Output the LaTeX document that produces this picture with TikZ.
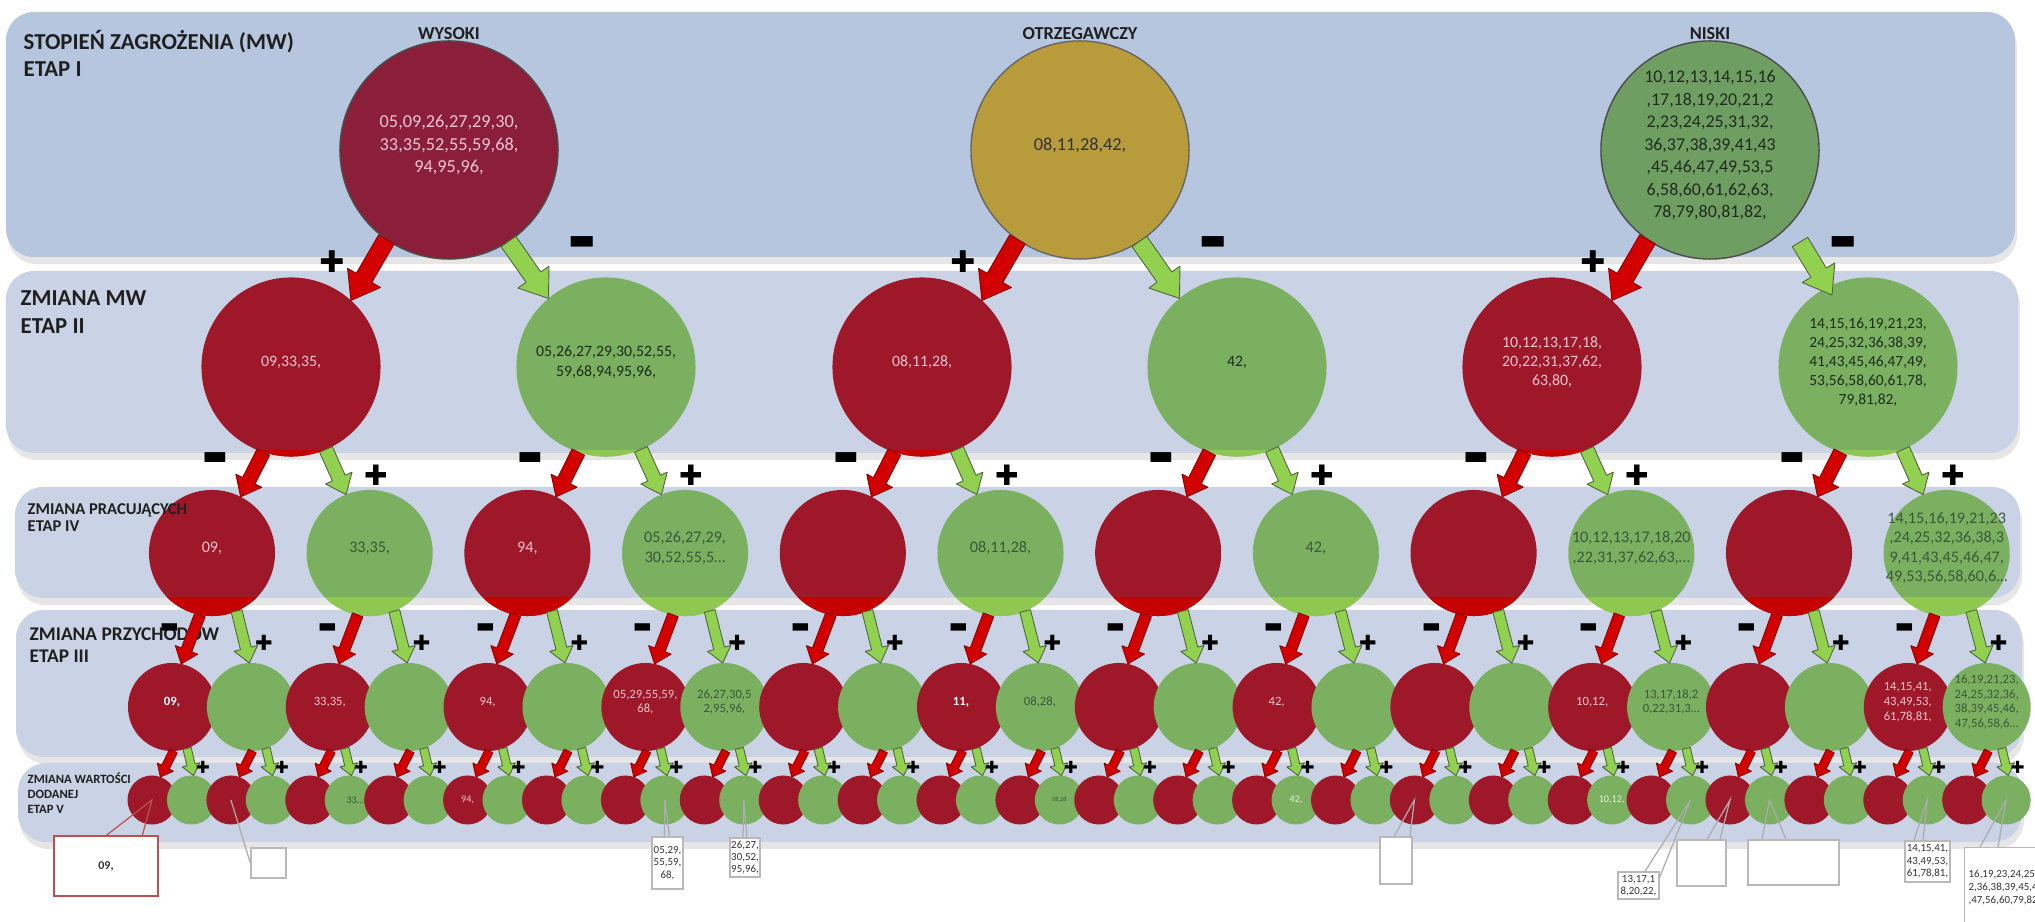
\documentclass[tikz,border=0pt]{standalone}
\usepackage{graphicx}
\usepackage{fontspec}
\setmainfont{Carlito}
\newfontfamily\signfont{DejaVu Sans}
\usetikzlibrary{calc,shadows}
\definecolor{bandA}{RGB}{182,198,222}
\definecolor{bandB}{RGB}{201,211,229}
\definecolor{wysred}{RGB}{139,31,58}
\definecolor{otrgold}{RGB}{184,156,60}
\definecolor{nisgreen}{RGB}{111,158,98}
\definecolor{ballred}{RGB}{158,24,42}
\definecolor{ballgreen}{RGB}{122,176,96}
\definecolor{stripred}{RGB}{196,0,0}
\definecolor{stripgreen}{RGB}{142,200,80}
\definecolor{arrred}{RGB}{210,0,0}
\definecolor{arrredline}{RGB}{140,0,0}
\definecolor{arrgreen}{RGB}{146,208,80}
\definecolor{arrgreenline}{RGB}{80,100,60}
\definecolor{pinktxt}{RGB}{242,196,206}
\definecolor{greentxt}{RGB}{58,88,58}
\definecolor{darktxt}{RGB}{30,44,30}
\definecolor{lighttxt}{RGB}{225,240,215}
\definecolor{boxred}{RGB}{192,80,77}
% tekst w kole (bez powiekszania wezla)
\newcommand{\balltext}[1]{\smash{\makebox[0pt]{\begin{tabular}{@{}c@{}}#1\end{tabular}}}}
% znaki + i -
\newcommand{\plussign}{\scalebox{0.85}{✚}}
\newcommand{\minussign}{\scalebox{1}[2.6]{−}}
% strzalka blokowa: styl, od, do, pol trzonu, pol grotu, dlugosc grotu
\newcommand{\blockarrow}[6]{%
  \draw[#1] let \p1=(#2), \p2=(#3),
      \n1={atan2(\y2-\y1,\x2-\x1)},
      \n2={veclen(\x2-\x1,\y2-\y1)-#6} in
    ($(\p1)+(\n1+90:#4)$)
    -- ($(\p1)+(\n1:\n2)+(\n1+90:#4)$)
    -- ($(\p1)+(\n1:\n2)+(\n1+90:#5)$)
    -- (\p2)
    -- ($(\p1)+(\n1:\n2)+(\n1-90:#5)$)
    -- ($(\p1)+(\n1:\n2)+(\n1-90:#4)$)
    -- ($(\p1)+(\n1-90:#4)$) -- cycle;}
\tikzset{
    band/.style={fill=bandB, rounded corners=0.28cm,
        drop shadow={opacity=0.2, shadow xshift=0.02cm, shadow yshift=-0.07cm}},
    ball/.style={circle, inner sep=0pt, outer sep=0pt},
    redarrow/.style={fill=arrred, draw=arrredline, line width=0.25pt, line join=round},
    greenarrow/.style={fill=arrgreen, draw=arrgreenline, line width=0.25pt, line join=round},
    signA/.style={inner sep=0pt, text=black, font=\signfont\bfseries\fontsize{10}{10}\selectfont},
    signB/.style={signA, font=\signfont\bfseries\fontsize{9.4}{9.4}\selectfont},
    signC/.style={signA, font=\signfont\bfseries\fontsize{7}{7}\selectfont},
    signD/.style={signA, font=\signfont\bfseries\fontsize{5.6}{5.6}\selectfont},
    level/.style={anchor=north west, align=left, inner sep=0pt, text=black!88},
    head/.style={inner sep=0pt, text=black!88, font=\bfseries\fontsize{5.2}{6}\selectfont},
    callbox/.style={draw=gray!55, fill=white, line width=0.35pt, inner sep=0pt,
        align=center, text=black!80, font=\fontsize{3.1}{3.5}\selectfont},
    callline/.style={draw=gray!65, line width=0.35pt}
}
\begin{document}
\begin{tikzpicture}[x=0.01cm,y=-0.01cm]
\path[use as bounding box, clip] (0,0) rectangle (2035,922);

% ===================== pasy etapow =====================
\path[band, fill=bandA] (6,12) rectangle (2015,257);
\path[band] (6,271) rectangle (2018,453);
\path[band] (15,487) rectangle (2020,598);
\path[band] (16,610) rectangle (2022,757);
\path[band] (18,763) rectangle (2022,842);

% ===================== etap I =====================
\node[ball, fill=wysred, draw=black!70, line width=0.4pt, minimum size=2.18cm,
    text=pinktxt, font=\fontsize{5.2}{6.3}\selectfont] (mw1) at (449,150)
    {\balltext{05,09,26,27,29,30,\\33,35,52,55,59,68,\\94,95,96,}};
\node[ball, fill=otrgold, draw=black!60, line width=0.4pt, minimum size=2.18cm,
    text=black!80, font=\fontsize{5.2}{6.3}\selectfont] (mw2) at (1080,150)
    {\balltext{08,11,28,42,}};
\node[ball, fill=nisgreen, draw=black!70, line width=0.4pt, minimum size=2.18cm,
    text=darktxt, font=\fontsize{5.1}{6.4}\selectfont] (mw3) at (1710,150)
    {\balltext{10,12,13,14,15,16\\,17,18,19,20,21,2\\2,23,24,25,31,32,\\36,37,38,39,41,43\\,45,46,47,49,53,5\\6,58,60,61,62,63,\\78,79,80,81,82,}};
\node[head] (h1) at (449,34) {WYSOKI};
\node[head] (h2) at (1080,34) {OTRZEGAWCZY};
\node[head] (h3) at (1710,34) {NISKI};

% ===================== etap II =====================
\node[ball, fill=ballred, text=pinktxt, minimum size=1.79cm, font=\fontsize{4.5}{5.5}\selectfont]
    (z1) at (291,367) {\balltext{09,33,35,}};
\node[ball, fill=ballgreen, text=darktxt, minimum size=1.79cm, font=\fontsize{4.5}{5.5}\selectfont]
    (z2) at (606,367) {\balltext{05,26,27,29,30,52,55,\\59,68,94,95,96,}};
\node[ball, fill=ballred, text=pinktxt, minimum size=1.79cm, font=\fontsize{4.5}{5.5}\selectfont]
    (z3) at (922,367) {\balltext{08,11,28,}};
\node[ball, fill=ballgreen, text=darktxt, minimum size=1.79cm, font=\fontsize{4.5}{5.5}\selectfont]
    (z4) at (1237,367) {\balltext{42,}};
\node[ball, fill=ballred, text=pinktxt, minimum size=1.79cm, font=\fontsize{4.5}{5.5}\selectfont]
    (z5) at (1552,367) {\balltext{10,12,13,17,18,\\20,22,31,37,62,\\63,80,}};
\node[ball, fill=ballgreen, text=darktxt, minimum size=1.79cm, font=\fontsize{4.4}{5.4}\selectfont]
    (z6) at (1868,367) {\balltext{14,15,16,19,21,23,\\24,25,32,36,38,39,\\41,43,45,46,47,49,\\53,56,58,60,61,78,\\79,81,82,}};

% ===================== etap IV =====================
\foreach \kk/\tx in {1/{09,},2/{33,35,},3/{94,},4/{05,26,27,29,\\30,52,55,5…},5/{},6/{08,11,28,},
    7/{},8/{42,},9/{},10/{10,12,13,17,18,20\\,22,31,37,62,63,…},11/{},
    12/{14,15,16,19,21,23\\,24,25,32,36,38,3\\9,41,43,45,46,47,\\49,53,56,58,60,6…}}{
  \pgfmathsetmacro{\xx}{212+157.7*(\kk-1)}
  \ifodd\kk\relax\def\bc{ballred}\def\tc{pinktxt}\else\def\bc{ballgreen}\def\tc{greentxt}\fi
  \node[ball, fill=\bc, text=\tc, minimum size=1.26cm, font=\fontsize{4.6}{5.5}\selectfont]
      (p\kk) at (\xx,553) {\balltext{\tx}};
}
% jasniejsze dolne brzegi kol
\begin{scope}
\clip (0,451) rectangle (2035,462);
\foreach \nn in {1,...,6}{
  \ifodd\nn\relax\def\bc{stripred}\else\def\bc{stripgreen}\fi
  \fill[fill=\bc] (z\nn) circle (0.895cm);
}
\end{scope}
\begin{scope}
\clip (0,598) rectangle (2035,625);
\foreach \kk in {1,...,12}{
  \ifodd\kk\relax\def\bc{stripred}\else\def\bc{stripgreen}\fi
  \fill[fill=\bc] (p\kk) circle (0.63cm);
}
\end{scope}

% ===================== etap III =====================
\foreach \jj/\tx in {1/{\textbf{\color{white}09,}},2/{},3/{33,35,},4/{},5/{94,},6/{},
    7/{05,29,55,59,\\68,},8/{26,27,30,5\\2,95,96,},9/{},10/{},11/{\textbf{\color{white}11,}},
    12/{08,28,},13/{},14/{},15/{42,},16/{},17/{},18/{},19/{10,12,},
    20/{13,17,18,2\\0,22,31,3…},21/{},22/{},23/{14,15,41,\\43,49,53,\\61,78,81,},
    24/{16,19,21,23,\\24,25,32,36,\\38,39,45,46,\\47,56,58,6…}}{
  \pgfmathsetmacro{\xx}{172+78.9*(\jj-1)}
  \ifodd\jj\relax\def\bc{ballred}\def\tc{pinktxt}\else\def\bc{ballgreen}\def\tc{greentxt}\fi
  \node[ball, fill=\bc, text=\tc, minimum size=0.88cm, font=\fontsize{3.6}{4.2}\selectfont]
      (q\jj) at (\xx,707) {\balltext{\tx}};
}

% ===================== etap V =====================
\foreach \ii in {1,...,48}{
  \pgfmathsetmacro{\xx}{152+39.45*(\ii-1)}
  \ifodd\ii\relax\def\bc{ballred}\else\def\bc{ballgreen}\fi
  \node[ball, fill=\bc, minimum size=0.49cm] (v\ii) at (\xx,800) {};
}
\node[inner sep=0pt, text=greentxt, font=\fontsize{2.9}{3}\selectfont] (v6t) at ($(v6)+(6,0)$) {33…};
\node[inner sep=0pt, text=pinktxt, font=\fontsize{2.9}{3}\selectfont] (v9t) at (v9) {94,};
\node[inner sep=0pt, text=greentxt, font=\fontsize{1.8}{2}\selectfont] (v24t) at (v24) {08,28};
\node[inner sep=0pt, text=lighttxt, font=\fontsize{2.9}{3}\selectfont] (v30t) at (v30) {42,};
\node[inner sep=0pt, text=lighttxt, font=\fontsize{2.9}{3}\selectfont] (v38t) at (v38) {10,12,};

% ===================== opisy etapow =====================
\node[level, font=\bfseries\fontsize{6.5}{7.7}\selectfont] (lv1) at (23,30) {STOPIEŃ ZAGROŻENIA (MW)\\ETAP I};
\node[level, font=\bfseries\fontsize{6.5}{8}\selectfont] (lv2) at (20,290) {ZMIANA MW\\ETAP II};
\node[level, font=\bfseries\fontsize{4.7}{4.9}\selectfont] (lv3) at (27,503) {ZMIANA PRACUJĄCYCH\\ETAP IV};
\node[level, font=\bfseries\fontsize{5.5}{6.1}\selectfont] (lv4) at (29,624) {ZMIANA PRZYCHODÓW\\ETAP III};
\node[level, font=\bfseries\fontsize{3.6}{4.3}\selectfont] (lv5) at (27,772) {ZMIANA WARTOŚCI\\DODANEJ\\ETAP V};

% ===================== strzalki =====================
\blockarrow{redarrow}{mw1.235}{z1.48}{0.09cm}{0.19cm}{0.26cm}
\blockarrow{greenarrow}{mw1.-57}{z2.130}{0.09cm}{0.19cm}{0.26cm}
\blockarrow{redarrow}{mw2.235}{z3.48}{0.09cm}{0.19cm}{0.26cm}
\blockarrow{greenarrow}{mw2.-57}{z4.130}{0.09cm}{0.19cm}{0.26cm}
\blockarrow{redarrow}{mw3.235}{z5.48}{0.09cm}{0.19cm}{0.26cm}
\blockarrow{greenarrow}{$(mw3)+(90,92)$}{$(z6)+(-36,-72)$}{0.09cm}{0.19cm}{0.26cm}
\foreach \mm in {1,2,3}{
  \node[signA] (sp\mm) at ($(mw\mm)+(-117,112)$) {\plussign};
  \node[signA] (sm\mm) at ($(mw\mm)+(133,104)$) {\minussign};
}
\foreach \nn in {1,...,6}{
  \pgfmathtruncatemacro{\ia}{2*\nn-1}
  \pgfmathtruncatemacro{\ib}{2*\nn}
  \blockarrow{redarrow}{z\nn.-108}{p\ia.63}{0.07cm}{0.145cm}{0.18cm}
  \blockarrow{greenarrow}{z\nn.-67}{p\ib.112}{0.07cm}{0.145cm}{0.18cm}
  \node[signB] (zm\nn) at ($(z\nn)+(-76,102)$) {\minussign};
  \node[signB] (zp\nn) at ($(z\nn)+(85,108)$) {\plussign};
}
\foreach \kk in {1,...,12}{
  \pgfmathtruncatemacro{\ia}{2*\kk-1}
  \pgfmathtruncatemacro{\ib}{2*\kk}
  \blockarrow{redarrow}{p\kk.-101}{q\ia.78}{0.055cm}{0.12cm}{0.15cm}
  \blockarrow{greenarrow}{p\kk.-67}{q\ib.92}{0.055cm}{0.12cm}{0.15cm}
  \node[signC] (pm\kk) at ($(p\kk)+(-42,83)$) {\minussign};
  \node[signC] (pp\kk) at ($(p\kk)+(52,90)$) {\plussign};
}
\foreach \jj in {1,...,24}{
  \pgfmathtruncatemacro{\ia}{2*\jj-1}
  \pgfmathtruncatemacro{\ib}{2*\jj}
  \blockarrow{redarrow}{q\jj.-88}{v\ia.70}{0.042cm}{0.09cm}{0.11cm}
  \blockarrow{greenarrow}{q\jj.-70}{v\ib.85}{0.042cm}{0.09cm}{0.11cm}
  \node[signD] (qp\jj) at ($(q\jj)+(31,60)$) {\plussign};
}

% ===================== objasnienia =====================
\node[callbox, draw=boxred, minimum width=1.04cm, minimum height=0.6cm,
    font=\bfseries\fontsize{3.4}{4}\selectfont] (c1) at (106,866) {09,};
\draw[callline, draw=boxred] ($(c1.north west)+(53,0)$) -- (v1.center) -- ($(c1.north west)+(89,0)$);
\node[callbox, minimum width=0.35cm, minimum height=0.3cm] (c2) at (268.5,863) {};
\draw[callline] (v3.center) -- (c2.west);
\node[callbox, minimum width=0.31cm, minimum height=0.52cm] (c3) at (667.5,863) {05,29,\\55,59,\\68,};
\draw[callline] ($(c3.north)+(-3,0)$) -- (v14.center) -- ($(c3.north)+(2,0)$);
\node[callbox, minimum width=0.3cm, minimum height=0.39cm] (c4) at (745,857.5) {26,27,\\30,52,\\95,96,};
\draw[callline] ($(c4.north)+(-2,0)$) -- (v16.center) -- ($(c4.north)+(2,0)$);
\node[callbox, minimum width=0.32cm, minimum height=0.47cm] (c5) at (1396,860.5) {};
\draw[callline] ($(c5.north)+(-2,0)$) -- (v33.center) -- ($(c5.north)+(14,0)$);
\node[callbox, minimum width=0.41cm, minimum height=0.27cm] (c6) at (1638.5,885.5) {13,17,1\\8,20,22,};
\draw[callline] ($(c6.north)+(6.5,0)$) -- (v40.center) -- ($(c6.north east)+(0,6)$);
\node[callbox, minimum width=0.49cm, minimum height=0.46cm] (c7) at (1701.5,863) {};
\draw[callline] ($(c7.north)+(5.5,0)$) -- (v41.center) -- ($(c7.north)+(18.5,0)$);
\node[callbox, minimum width=0.91cm, minimum height=0.45cm] (c8) at (1793.5,862.5) {};
\draw[callline] ($(c8.north)+(-31.5,0)$) -- (v42.center) -- ($(c8.north)+(-7.5,0)$);
\node[callbox, minimum width=0.45cm, minimum height=0.41cm] (c9) at (1927.5,861.5) {14,15,41,\\43,49,53,\\61,78,81,};
\draw[callline] ($(c9.north)+(-13.5,0)$) -- (v46.center) -- ($(c9.north)+(-4.5,0)$);
\node[callbox, anchor=north west, minimum width=1.2cm, minimum height=1cm] (c10) at (1964,847) {};
\draw[callline] ($(c10.north west)+(16,0)$) -- (v48.center) -- ($(c10.north west)+(34,0)$);
\node[anchor=west, align=left, inner sep=0pt, text=black!80, font=\fontsize{3.1}{3.7}\selectfont]
    (c10t) at (1968,888) {16,19,23,24,25,\\2,36,38,39,45,4\\,47,56,60,79,82};
\end{tikzpicture}
\end{document}
